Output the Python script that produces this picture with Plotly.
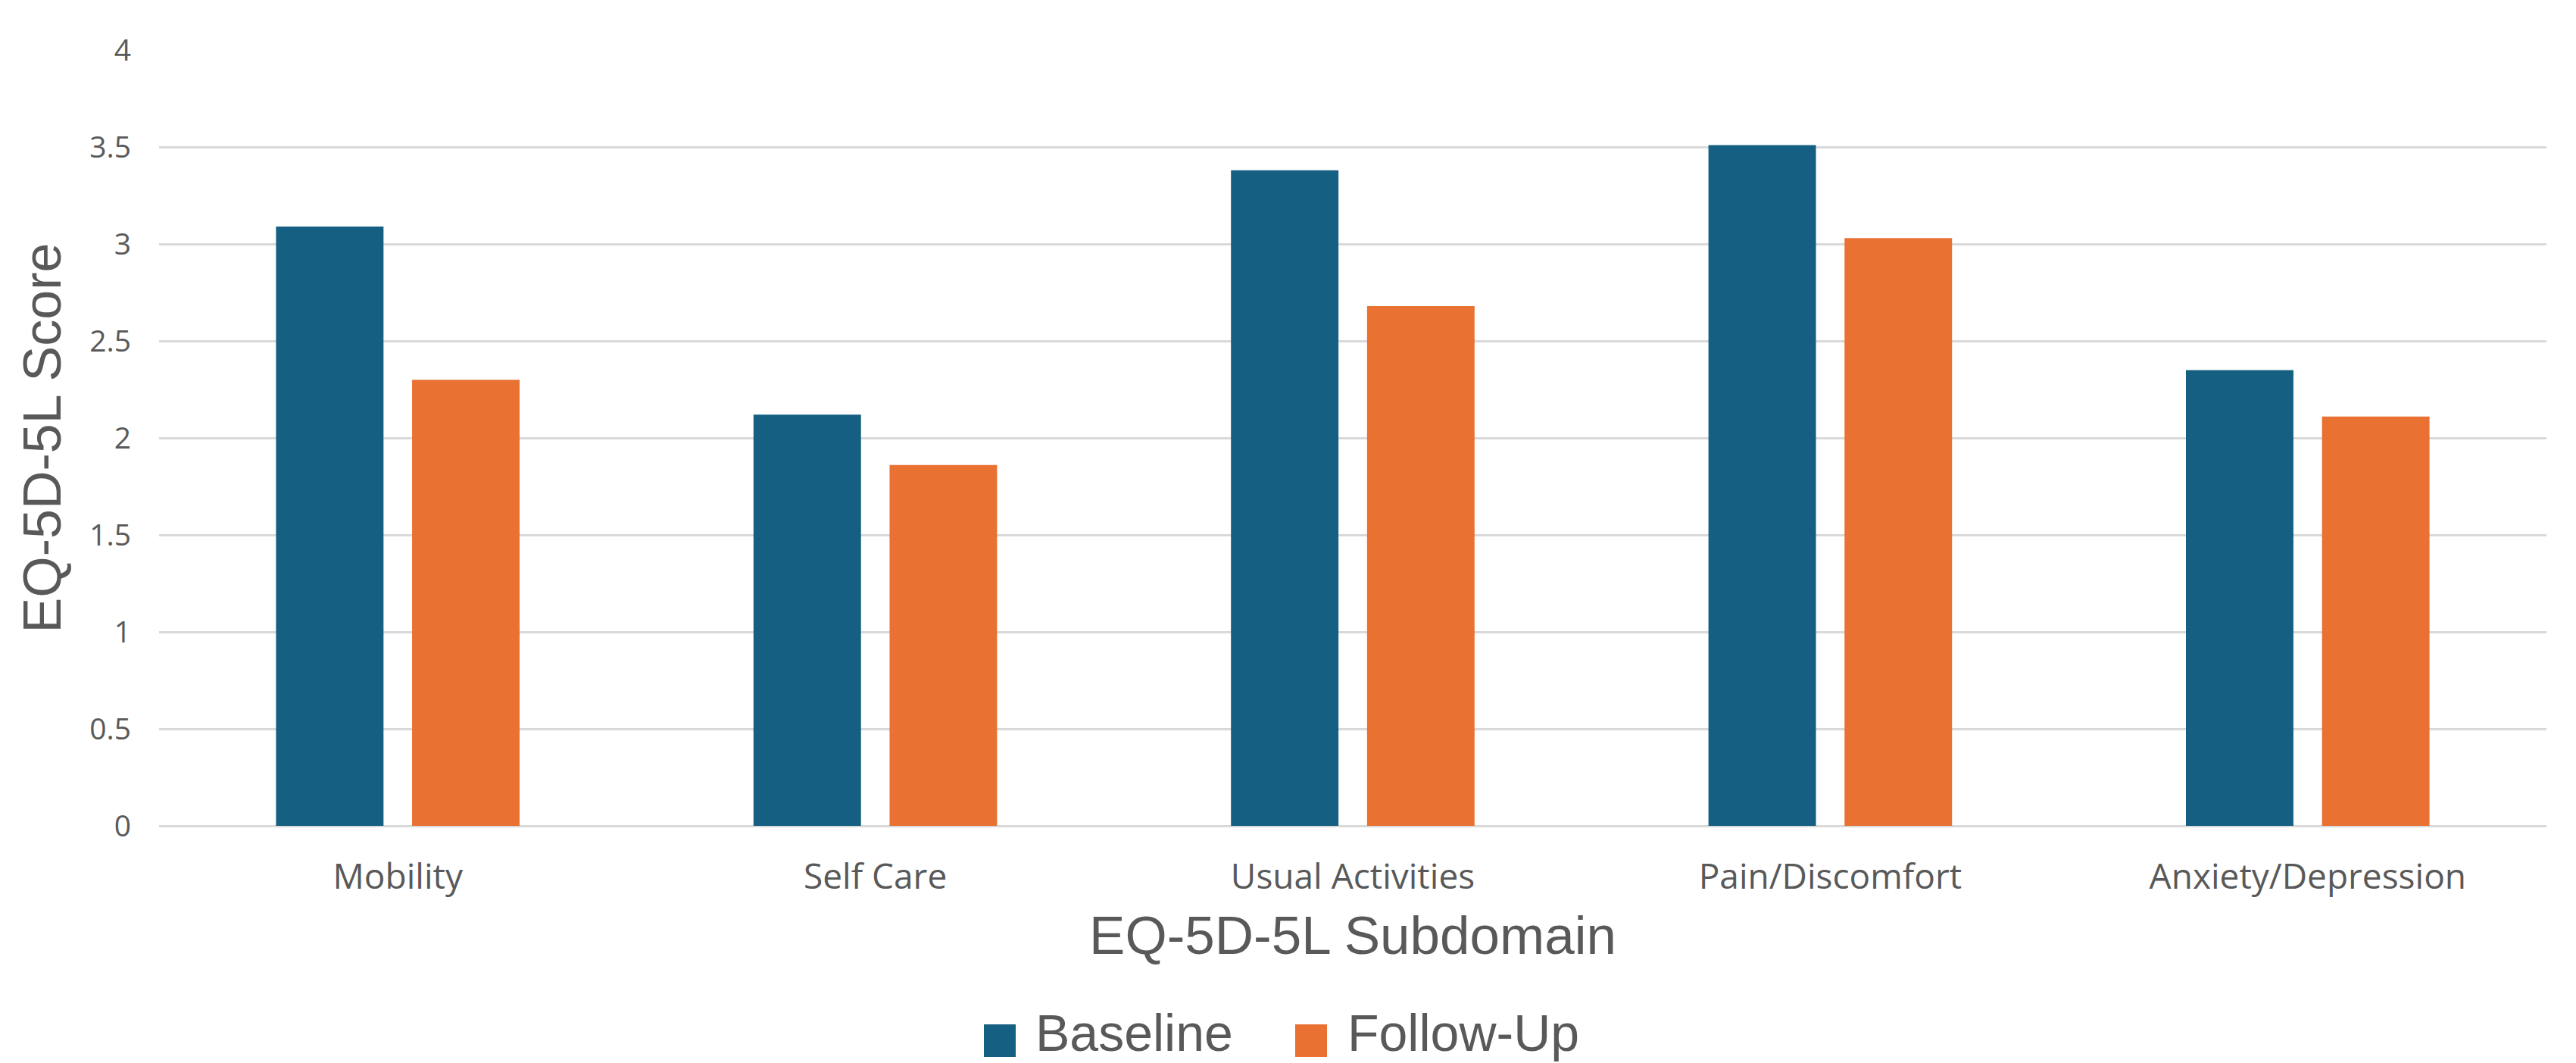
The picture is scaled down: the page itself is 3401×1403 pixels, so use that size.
import plotly.graph_objects as go

# EQ-5D-5L subdomain mean scores
subdomains = ["Mobility", "Self Care", "Usual Activities", "Pain/Discomfort", "Anxiety/Depression"]
baseline = [3.09, 2.12, 3.38, 3.51, 2.35]
follow_up = [2.30, 1.86, 2.68, 3.03, 2.11]
series_names = ["Baseline", "Follow-Up"]
y_ticks = [0, 0.5, 1, 1.5, 2, 2.5, 3, 3.5, 4]
y_tick_text = ["0", "0.5", "1", "1.5", "2", "2.5", "3", "3.5", "4"]

BLUE = "#156082"
ORANGE = "#E97132"
TEXT = "#595959"
GRID = "#D9D9D9"

W, H = 3401, 1403
M_L, M_R, M_T, M_B = 210, 39, 66, 313
PW, PH = W - M_L - M_R, H - M_T - M_B


def px_x(x):
    return (x - M_L) / PW


def px_y(y):
    return (H - M_B - y) / PH


fig = go.Figure()
fig.add_trace(go.Bar(x=subdomains, y=baseline, name=series_names[0],
                     marker=dict(color=BLUE, line=dict(width=0)), showlegend=False))
fig.add_trace(go.Bar(x=subdomains, y=follow_up, name=series_names[1],
                     marker=dict(color=ORANGE, line=dict(width=0)), showlegend=False))

# legend drawn below the axis title with large square swatches
legend_items = [(series_names[0], BLUE, 1299, 1365), (series_names[1], ORANGE, 1710, 1777)]
shapes = []
annotations = []
for name, color, sx, tx in legend_items:
    shapes.append(dict(type="rect", xref="paper", yref="paper",
                       x0=px_x(sx), x1=px_x(sx + 42), y0=px_y(1395), y1=px_y(1352),
                       fillcolor=color, line=dict(width=0)))
    annotations.append(dict(text=name, xref="paper", yref="paper", x=px_x(tx), y=px_y(1363),
                            xanchor="left", yanchor="middle", showarrow=False,
                            font=dict(family="Liberation Sans", size=68, color=TEXT)))

fig.update_layout(
    width=W, height=H,
    margin=dict(l=M_L, r=M_R, t=M_T, b=M_B, autoexpand=False),
    paper_bgcolor="white", plot_bgcolor="white",
    barmode="group", bargap=0.43, bargroupgap=0.21,
    shapes=shapes, annotations=annotations,
    showlegend=False,
)
fig.update_xaxes(
    showgrid=False, showline=False, zeroline=False, ticks="",
    tickfont=dict(family="Open Sans", size=46, color=TEXT),
    ticklabelstandoff=36,
    title=dict(text="EQ-5D-5L Subdomain", standoff=24,
               font=dict(family="Liberation Sans", size=71, color=TEXT)),
    automargin=False,
)
fig.update_yaxes(
    range=[0, 4], tickvals=y_ticks, ticktext=y_tick_text,
    showgrid=True, gridcolor=GRID, gridwidth=2.5,
    zeroline=True, zerolinecolor=GRID, zerolinewidth=2.5,
    showline=False, ticks="",
    tickfont=dict(family="Open Sans", size=39, color=TEXT),
    ticklabelstandoff=36,
    title=dict(text="EQ-5D-5L Score", standoff=14,
               font=dict(family="Liberation Sans", size=70, color=TEXT)),
    automargin=False,
)

fig.write_html("out.html")
